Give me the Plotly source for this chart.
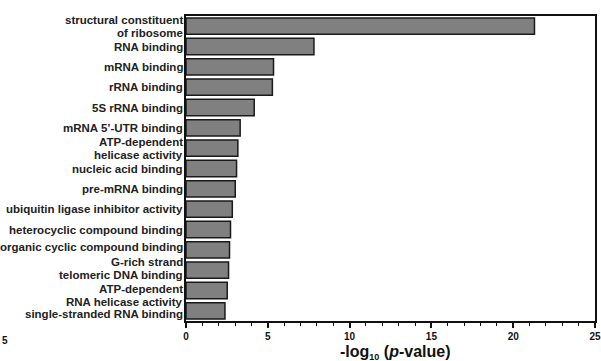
import plotly.graph_objects as go

categories = [
    "structural constituent\nof ribosome",
    "RNA binding",
    "mRNA binding",
    "rRNA binding",
    "5S rRNA binding",
    "mRNA 5’-UTR binding",
    "ATP-dependent\nhelicase activity",
    "nucleic acid binding",
    "pre-mRNA binding",
    "ubiquitin ligase inhibitor activity",
    "heterocyclic compound binding",
    "organic cyclic compound binding",
    "G-rich strand\ntelomeric DNA binding",
    "ATP-dependent\nRNA helicase activity",
    "single-stranded RNA binding",
]
neg_log_p = [21.3, 7.82, 5.35, 5.28, 4.17, 3.31, 3.17, 3.09, 3.01, 2.83, 2.72, 2.66, 2.60, 2.52, 2.38]
x_ticks = [0, 5, 10, 15, 20, 25]

FONT = "Liberation Sans, Arial, Helvetica, sans-serif"

# small vertical label nudges (px, positive = down) as in the reference layout
label_nudge = {11: -3, 12: -2, 13: 4.5, 14: 3.5}

fig = go.Figure(go.Bar(
    x=neg_log_p,
    y=categories,
    orientation="h",
    marker=dict(color="#808080", line=dict(color="#1a1a1a", width=1.5)),
))

fig.update_layout(
    width=601, height=361,
    margin=dict(l=186, r=6, t=16, b=40, autoexpand=False),
    paper_bgcolor="white", plot_bgcolor="white",
    bargap=0.2,
    showlegend=False,
    font=dict(family=FONT, color="#222222"),
)

fig.update_xaxes(
    range=[0, 25],
    tickvals=x_ticks,
    ticktext=[f"<b>{v}</b>" for v in x_ticks],
    tickfont=dict(size=10, family=FONT, color="#111111"),
    ticks="outside", ticklen=5, tickwidth=1.5, tickcolor="#111111",
    minor=dict(dtick=1, ticks="outside", ticklen=3, tickwidth=1.2, tickcolor="#111111"),
    showline=True, linewidth=2, linecolor="#111111", mirror=True,
    showgrid=False, zeroline=False, automargin=False,
)

fig.update_yaxes(
    range=[len(categories) - 0.5, -0.5],
    showticklabels=False,
    ticks="",
    showline=True, linewidth=2, linecolor="#111111", mirror=True,
    showgrid=False, zeroline=False, automargin=False,
)

# category labels drawn as annotations so two-line labels can be tight
for k, cat in enumerate(categories):
    lines = cat.split("\n")
    n = len(lines)
    for i, line in enumerate(lines):
        shift = (((n - 1) / 2) - i) * 13 - label_nudge.get(k, 0)
        fig.add_annotation(
            text=f"<b>{line}</b>", x=0, y=cat, xref="paper", yref="y",
            xanchor="right", yanchor="middle", showarrow=False, xshift=-1,
            yshift=shift,
            font=dict(size=11.5, family=FONT, color="#222222"),
        )

# x-axis title
fig.add_annotation(
    text="<b>-log<sub><span style='font-size:9px'>10</span></sub> (<i>p</i>-value)</b>",
    x=0.5, y=-0.102, xref="paper", yref="paper", xshift=4,
    xanchor="center", yanchor="middle", showarrow=False,
    font=dict(size=16, family=FONT, color="#111111"),
)

fig.add_annotation(
    text="<b>5</b>", x=0, y=-0.065, xref="paper", yref="paper",
    xanchor="left", yanchor="middle", showarrow=False,
    font=dict(size=10, family=FONT, color="#111111"), xshift=-186,
)

fig.write_html("out.html")
